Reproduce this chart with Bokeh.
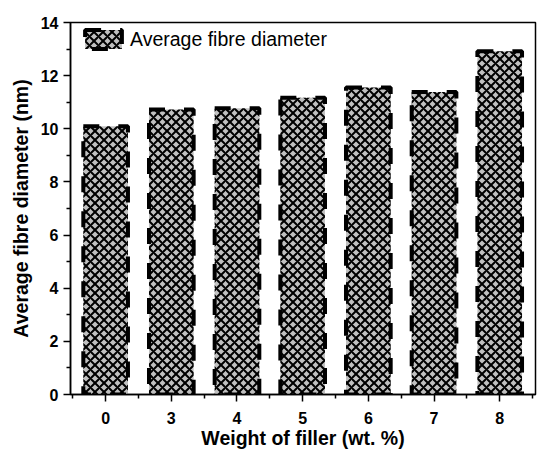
from bokeh.plotting import figure
from bokeh.models import Range1d, FixedTicker, ColumnDataSource
from bokeh.embed import file_html
from bokeh.resources import INLINE

categories = ["0", "3", "4", "5", "6", "7", "8"]
diameters = [10.1, 10.73, 10.77, 11.17, 11.55, 11.38, 12.92]
y_ticks = [0, 2, 4, 6, 8, 10, 12, 14]

idx = list(range(len(categories)))
src = ColumnDataSource(dict(x=idx, top=diameters))

FONT = "Liberation Sans"

p = figure(
    frame_width=465, frame_height=372,
    min_border_left=70, min_border_right=7, min_border_top=22, min_border_bottom=60,
    x_range=Range1d(-0.535, 6.545), y_range=Range1d(0, 14),
    output_backend="svg", toolbar_location=None,
)
p.grid.visible = False
p.outline_line_color = "black"
p.outline_line_width = 1.5

p.vbar(x="x", top="top", width=0.68, source=src,
       fill_color="#c0c0c0", line_color="black", line_width=4, line_dash="16 19",
       hatch_pattern="x", hatch_color="black", hatch_scale=9, hatch_weight=2,
       legend_label="Average fibre diameter")

# x axis
p.xaxis.ticker = FixedTicker(ticks=idx, minor_ticks=[i - 0.5 for i in range(len(categories) + 1)])
p.xaxis.major_label_overrides = {i: c for i, c in zip(idx, categories)}
p.yaxis.ticker = FixedTicker(ticks=y_ticks, minor_ticks=list(range(1, 14, 2)))

for ax in (p.xaxis[0], p.yaxis[0]):
    ax.axis_line_color = "black"
    ax.axis_line_width = 1.5
    ax.major_tick_line_color = "black"
    ax.major_tick_line_width = 1.5
    ax.minor_tick_line_color = "black"
    ax.minor_tick_line_width = 1.5
    ax.major_tick_out = 7
    ax.major_tick_in = 0
    ax.minor_tick_out = 4
    ax.minor_tick_in = 0
    ax.major_label_text_font = FONT
    ax.major_label_text_font_style = "bold"
    ax.major_label_text_font_size = "16px"
    ax.major_label_text_color = "black"
    ax.axis_label_text_font = FONT
    ax.axis_label_text_font_style = "bold"
    ax.axis_label_text_font_size = "19.5px"
    ax.axis_label_text_color = "black"

p.xaxis.axis_label = "Weight of filler (wt. %)"
p.yaxis.axis_label = "Average fibre diameter (nm)"
p.xaxis.major_label_standoff = 10
p.xaxis.axis_label_standoff = 0
p.yaxis.major_label_standoff = 5
p.yaxis.axis_label_standoff = 6

lg = p.legend[0]
lg.location = (10, 372 - 5 - 24)
lg.margin = 0
lg.padding = 0
lg.border_line_color = None
lg.background_fill_alpha = 0
lg.glyph_width = 46
lg.glyph_height = 24
lg.label_standoff = 4
lg.label_text_font = FONT
lg.label_text_font_size = "19.5px"
lg.label_text_color = "black"

open("out.html", "w").write(file_html(p, INLINE))
